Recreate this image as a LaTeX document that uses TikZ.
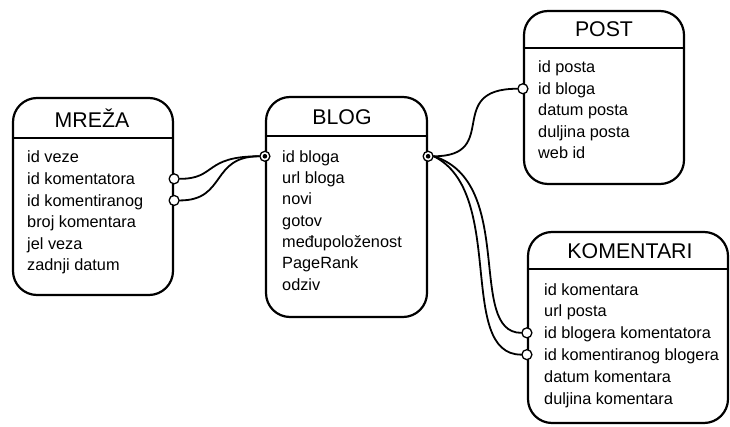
\documentclass[tikz,border=0pt]{standalone}
\usepackage{fontspec}
\setmainfont{Liberation Sans}
\begin{document}
\begin{tikzpicture}[x=1pt,y=-1pt,line join=round,line cap=round]
\tikzset{tablica/.style={draw,line width=2.2pt,rounded corners=24pt,inner sep=0pt},
naslov/.style={anchor=base,inner sep=0pt,font=\fontsize{21.3}{25}\selectfont},
polje/.style={anchor=base west,inner sep=0pt,text height=11.5pt,text depth=0pt,font=\fontsize{16.3}{20}\selectfont},
veza/.style={line width=1.8pt},
krug/.style={circle,draw,line width=1.3pt,fill=white,minimum size=10pt,inner sep=0pt}}
\useasboundingbox (0,0) rectangle (730,427);
% MREZA
\node[tablica,minimum width=160pt,minimum height=197pt] (mreza) at (93,196.5) {};
\draw[line width=2.2pt] (13,138)--(173,138);
\node[naslov] (mrezaN) at (92,128) {MREŽA};
\foreach \t [count=\i] in {id veze,id komentatora,id komentiranog,broj komentara,jel veza,zadnji datum}
\node[polje] (m\i) at (27,{141.4+21.6*\i}) {\t};
% BLOG
\node[tablica,minimum width=161pt,minimum height=220pt] (blog) at (346.5,207) {};
\draw[line width=2.2pt] (266,136)--(427,136);
\node[naslov] (blogN) at (342,125) {BLOG};
\foreach \t [count=\i] in {id bloga,url bloga,novi,gotov,međupoloženost,PageRank,odziv}
\node[polje] (b\i) at (282,{140.7+21.33*\i}) {\t};
% POST
\node[tablica,minimum width=160pt,minimum height=173pt] (post) at (604,97.5) {};
\draw[line width=2.2pt] (524,48)--(684,48);
\node[naslov] (postN) at (604,37) {POST};
\foreach \t [count=\i] in {id posta,id bloga,datum posta,duljina posta,web id}
\node[polje] (p\i) at (538,{51.5+21.5*\i}) {\t};
% KOMENTARI
\node[tablica,minimum width=200pt,minimum height=191pt] (kom) at (628,327.5) {};
\draw[line width=2.2pt] (528,269)--(728,269);
\node[naslov] (komN) at (630,259) {KOMENTARI};
\foreach \t [count=\i] in {id komentara,url posta,id blogera komentatora,id komentiranog blogera,datum komentara,duljina komentara}
\node[polje] (k\i) at (544,{273.2+21.8*\i}) {\t};
% krajevi veza
\node[krug] (km2) at (mreza.east |- m2) {};
\node[krug] (km3) at (mreza.east |- m3) {};
\node[krug] (kb1) at (blog.west |- b1) {};
\node[krug] (kb2) at (blog.east |- b1) {};
\node[krug] (kp2) at (post.west |- p2) {};
\node[krug] (kk3) at (kom.west |- k3) {};
\node[krug] (kk4) at (kom.west |- k4) {};
\fill (kb1) circle (2.3pt) (kb2) circle (2.3pt);
% veze
\draw[veza] (km2.east) .. controls +(37,0) and +(-56,0) .. (kb1.west);
\draw[veza] (km3.east) .. controls +(47,0) and +(-49,0) .. (kb1.west);
\draw[veza] (kb2.east) .. controls +(68,0) and +(-74,0) .. (kp2.west);
\draw[veza] (kb2.east) .. controls +(83,26) and +(-55,0) .. (kk3.west);
\draw[veza] (kb2.east) .. controls +(73,36) and +(-65,0) .. (kk4.west);
\end{tikzpicture}
\end{document}
